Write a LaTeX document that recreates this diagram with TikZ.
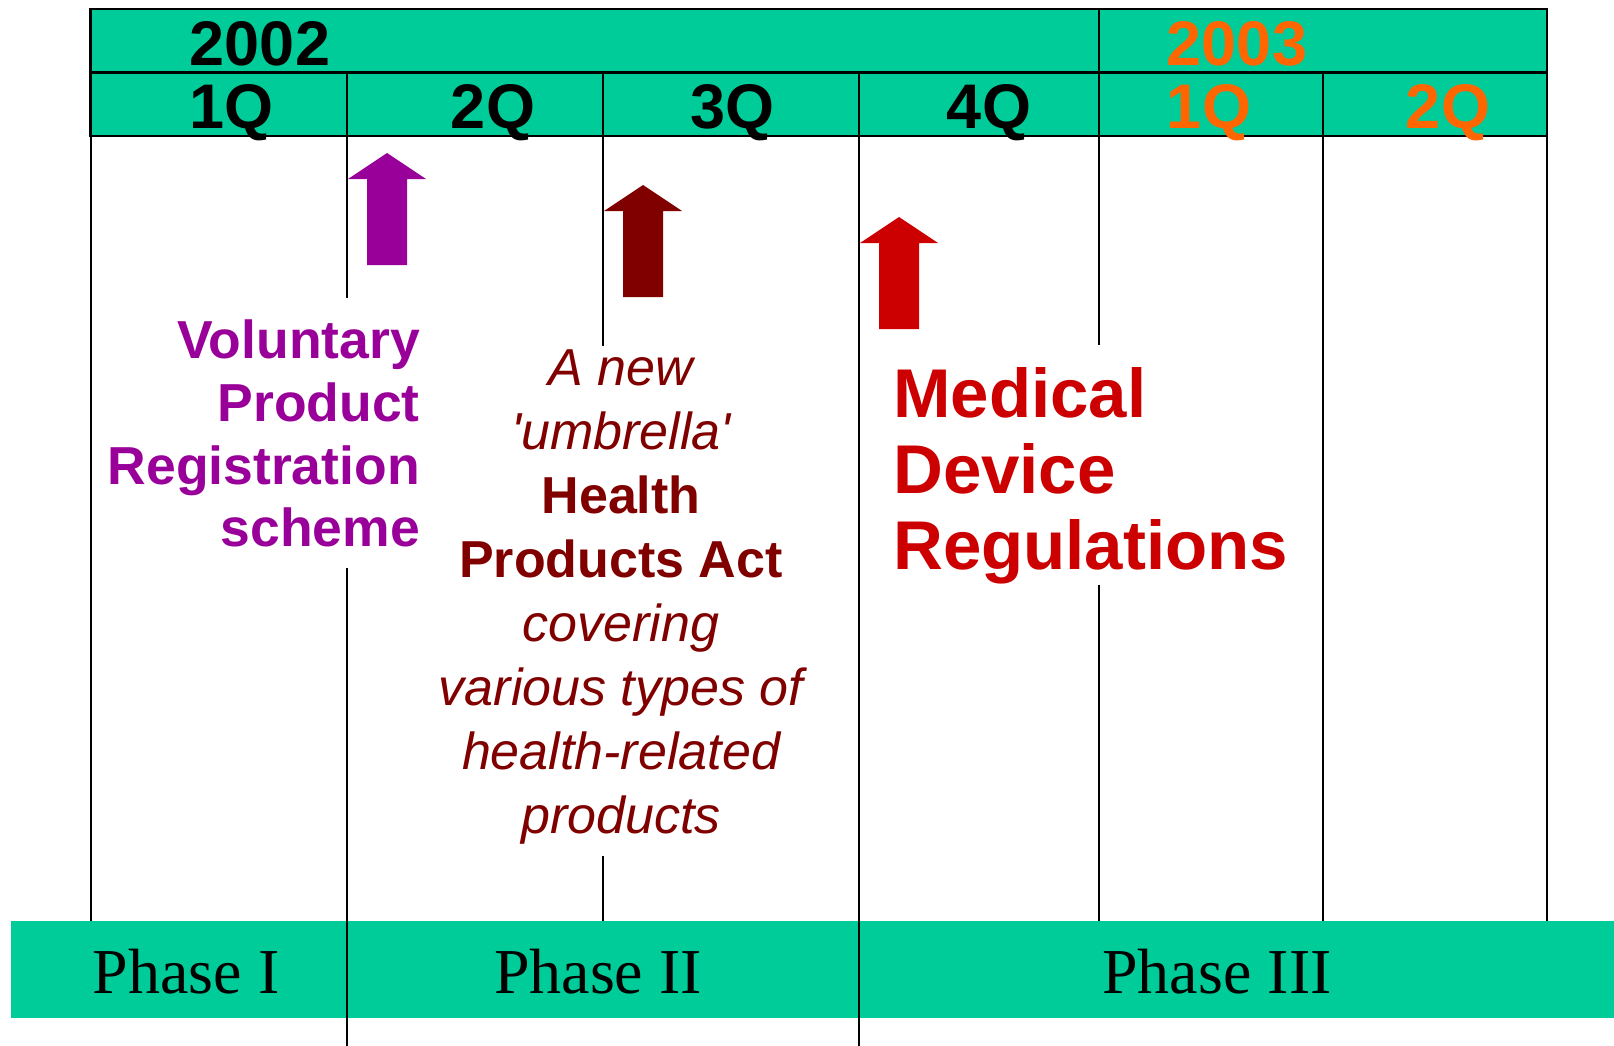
\documentclass[tikz,border=0pt]{standalone}
\usepackage{fontspec}
\setmainfont{Liberation Sans}
\newfontfamily\phasefont{Liberation Serif}
\usepackage{tikz}
\usepackage{xcolor}

\definecolor{bandgreen}{HTML}{00CC99}
\definecolor{yearorange}{HTML}{FF6600}
\definecolor{vprpurple}{HTML}{990099}
\definecolor{hpabrown}{HTML}{800000}
\definecolor{mdrred}{HTML}{CC0000}

\tikzset{
    headlabel/.style={font=\fontsize{63}{63}\selectfont\bfseries, anchor=base, inner sep=0pt},
    phaselabel/.style={font=\phasefont\fontsize{64}{64}\selectfont, anchor=base, inner sep=0pt},
    gridline/.style={line width=2pt},
    headline/.style={line width=2.5pt},
    uparrow/.pic={\path[pic actions] (0,0) -- (39,26) -- (20,26) -- (20,112) -- (-20,112) -- (-20,26) -- (-39,26) -- cycle;},
}

\begin{document}
\begin{tikzpicture}[x=1pt, y=-1pt]
        \useasboundingbox (0,0) rectangle (1614,1046);

        % phase band along the bottom
        \fill[bandgreen] (11.3,921) rectangle (1614,1017.7);

        % quarter lines, broken where the texts sit
        \foreach \x/\ya/\yb in {90.6/136/921, 347/136/297.7, 347/568/1046, 603/136/345.5, 603/856/921,
                                859/136/1046, 1099/136/345, 1099/585/921, 1323/136/921, 1547/136/921}
            \draw[gridline] (\x,\ya) -- (\x,\yb);

        % header: years and quarters
        \fill[bandgreen] (90.6,9) rectangle (1547,136);
        \draw[headline] (90.6,9) rectangle (1547,136) (90.6,72.5) -- (1547,72.5) (1099,9) -- (1099,136);
        \foreach \x in {347,603,859,1323}
            \draw[headline] (\x,72.5) -- (\x,136);

        \node[headlabel] (y2002) at (260,65.7) {2002};
        \node[headlabel, yearorange] (y2003) at (1237,65.7) {2003};
        \node[headlabel] (q1) at (231.5,129) {1Q};
        \node[headlabel] (q2) at (493,129) {2Q};
        \node[headlabel] (q3) at (732.5,129) {3Q};
        \node[headlabel] (q4) at (989,129) {4Q};
        \node[headlabel, yearorange] (nq1) at (1209,129) {1Q};
        \node[headlabel, yearorange] (nq2) at (1448,129) {2Q};

        % milestones
        \pic[fill=vprpurple] at (387,153) {uparrow};
        \pic[fill=hpabrown] at (643,185) {uparrow};
        \pic[fill=mdrred] at (899,217) {uparrow};

        \node[anchor=north east, align=right, inner sep=0pt, text=vprpurple,
              font=\fontsize{53.5}{62.6}\selectfont\bfseries] (vpr) at (420,320)
            {Voluntary\\Product\\Registration\\scheme};
        \node[anchor=north, align=center, inner sep=0pt, text=hpabrown,
              font=\fontsize{52}{64}\selectfont] (hpa) at (621,350)
            {\itshape A new\\\itshape \textquotesingle umbrella\textquotesingle\\\bfseries Health\\\bfseries Products Act\\
             \itshape covering\\\itshape various types of\\\itshape health-related\\\itshape products};
        \node[anchor=north west, align=left, inner sep=0pt, text=mdrred,
              font=\fontsize{69}{76}\selectfont\bfseries] (mdr) at (893,367)
            {Medical\\Device\\Regulations};

        % phases
        \node[phaselabel] (p1) at (186,993.3) {Phase I};
        \node[phaselabel] (p2) at (598,993.3) {Phase II};
        \node[phaselabel] (p3) at (1217,993.3) {Phase III};
    \end{tikzpicture}
\end{document}
